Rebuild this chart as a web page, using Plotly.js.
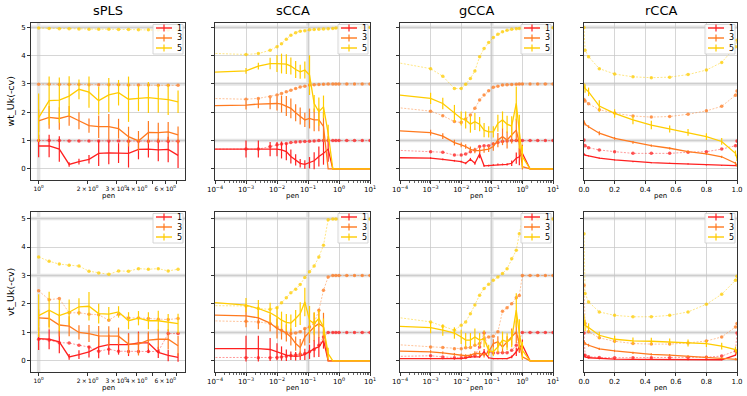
<!DOCTYPE html>
<html>
<head>
<meta charset="utf-8">
<script src="https://cdn.plot.ly/plotly-3.0.1.min.js"></script>
<style>html,body{margin:0;padding:0;background:#fff}#fig{width:747px;height:396px}</style>
</head>
<body>
<div id="fig"></div>
<script>
// x grids (pen)
var penSPLS = [1, 1.16, 1.34, 1.54, 1.77, 2.04, 2.34, 2.7, 3.1, 3.57, 4.11, 4.73, 5.44, 6.26, 7.2];
var penCCA = [1e-5, 1e-3, 0.0025, 0.006, 0.01, 0.014, 0.02, 0.028, 0.04, 0.056, 0.079, 0.112, 0.158, 0.224, 0.316, 0.447, 0.631, 0.794, 1, 1.78, 3.16, 5.62, 10];
var penRCCA = [0, 0.007, 0.03, 0.1, 0.2, 0.32, 0.44, 0.56, 0.68, 0.8, 0.9, 0.99, 1.0];

var methods = ['sPLS', 'sCCA', 'gCCA', 'rCCA'];
var rowLabels = ['wt_Uk(-cv)', 'vt_Uk(-cv)'];
var comps = ['1', '3', '5'];

// sPLS, wt
var splsWtCv1 = [0.81,0.81,0.70,0.16,0.26,0.34,0.55,0.57,0.56,0.55,0.69,0.70,0.67,0.69,0.48];
var splsWtSd1 = [0.4,0.4,0.45,0.08,0.1,0.15,0.45,0.4,0.35,0.5,0.35,0.3,0.4,0.45,0.45];
var splsWtTr1 = [1.0,1.0,1.0,0.99,0.99,0.99,0.99,0.99,0.99,0.98,0.98,0.98,0.98,0.98,0.98];
var splsWtCv3 = [1.70,1.82,1.78,1.87,1.70,1.53,1.49,1.49,1.42,1.14,0.99,1.29,1.28,1.31,1.20];
var splsWtSd3 = [0.4,0.4,0.4,0.35,0.3,0.25,0.4,0.45,0.35,0.35,0.35,0.4,0.35,0.35,0.3];
var splsWtTr3 = [2.99,2.99,2.98,2.98,2.98,2.97,2.97,2.97,2.97,2.96,2.96,2.96,2.95,2.95,2.95];
var splsWtCv5 = [1.81,2.41,2.43,2.57,2.81,2.71,2.41,2.61,2.69,2.46,2.49,2.52,2.48,2.45,2.37];
var splsWtSd5 = [0.85,0.85,0.8,0.7,0.35,0.55,0.5,0.6,0.45,0.8,0.45,0.55,0.5,0.55,0.4];
var splsWtTr5 = [4.97,4.96,4.95,4.95,4.94,4.93,4.93,4.93,4.92,4.92,4.91,4.91,4.90,4.90,4.90];

// sPLS, vt
var splsVtCv1 = [0.78,0.76,0.67,0.14,0.22,0.32,0.49,0.57,0.57,0.57,0.63,0.63,0.30,0.19,0.12];
var splsVtSd1 = [0.4,0.35,0.4,0.1,0.15,0.2,0.4,0.35,0.35,0.4,0.4,0.35,0.2,0.2,0.15];
var splsVtTr1 = [0.76,0.73,0.64,0.63,0.55,0.49,0.34,0.41,0.34,0.33,0.33,0.33,0.33,0.96,0.96];
var splsVtCv3 = [1.51,1.49,1.26,1.22,1.00,0.96,0.88,0.87,0.87,0.59,0.59,0.73,0.76,0.76,0.53];
var splsVtSd3 = [0.3,0.3,0.4,0.35,0.25,0.3,0.35,0.35,0.3,0.35,0.4,0.3,0.35,0.35,0.35];
var splsVtTr3 = [2.46,2.15,2.19,1.69,1.69,1.64,1.62,1.43,1.64,1.51,1.51,1.49,1.46,1.45,1.49];
var splsVtCv5 = [1.59,1.78,1.59,1.71,1.90,1.92,1.66,1.64,1.72,1.41,1.50,1.41,1.41,1.35,1.31];
var splsVtSd5 = [0.75,0.65,0.55,0.45,0.3,0.5,0.35,0.25,0.2,0.3,0.25,0.3,0.35,0.3,0.35];
var splsVtTr5 = [3.65,3.50,3.40,3.36,3.33,3.15,3.09,3.04,3.16,3.15,3.24,3.22,3.24,3.16,3.22];

// sCCA, wt
var sccaWtCv1 = [0.70,0.70,0.70,0.70,0.70,0.67,0.61,0.44,0.32,0.20,0.16,0.22,0.29,0.44,0.55,0.70,0,0,0,0,0,0,0];
var sccaWtSd1 = [0,0.3,0.3,0.25,0.25,0.3,0.3,0.25,0.2,0.15,0.15,0.2,0.3,0.35,0.4,0.45,0,0,0,0,0,0,0];
var sccaWtTr1 = [0.70,0.70,0.70,0.79,0.85,0.88,0.90,0.93,0.95,0.96,0.97,0.98,0.99,1,1,1,1,1,1,1,1,1,1];
var sccaWtCv3 = [2.22,2.25,2.29,2.31,2.31,2.29,2.22,2.14,1.98,1.87,1.73,1.78,1.73,1.73,1.5,0,0,0,0,0,0,0,0];
var sccaWtSd3 = [0,0.15,0.15,0.2,0.25,0.3,0.35,0.35,0.3,0.3,0.25,0.35,0.4,0.4,0.5,0,0,0,0,0,0,0,0];
var sccaWtTr3 = [2.51,2.46,2.49,2.55,2.61,2.66,2.72,2.78,2.84,2.89,2.92,2.96,2.97,2.98,2.99,3,3,3,3,3,3,3,3];
var sccaWtCv5 = [3.37,3.46,3.63,3.72,3.72,3.72,3.70,3.63,3.51,3.43,3.49,3.31,2.31,2.02,2.19,1.26,0,0,0,0,0,0,0];
var sccaWtSd5 = [0,0.1,0.12,0.2,0.3,0.35,0.35,0.3,0.3,0.25,0.3,0.7,0.3,0.5,0.4,0.3,0,0,0,0,0,0,0];
var sccaWtTr5 = [4.11,4.04,4.07,4.19,4.31,4.42,4.58,4.72,4.81,4.86,4.88,4.91,4.92,4.93,4.94,4.95,4.96,4.97,4.98,4.98,4.99,4.99,4.99];

// sCCA, vt
var sccaVtCv1 = [0.43,0.43,0.43,0.40,0.32,0.26,0.20,0.18,0.16,0.18,0.23,0.32,0.43,0.49,0.73,0,0,0,0,0,0,0,0];
var sccaVtSd1 = [0,0.45,0.45,0.4,0.3,0.25,0.2,0.15,0.15,0.15,0.2,0.25,0.3,0.35,0.3,0,0,0,0,0,0,0,0];
var sccaVtTr1 = [0.12,0.11,0.11,0.11,0.12,0.14,0.16,0.19,0.21,0.23,0.26,0.32,0.40,0.55,0.84,1,1,1,1,1,1,1,1];
var sccaVtCv3 = [1.63,1.58,1.51,1.33,1.14,1.05,0.98,0.84,0.61,0.47,0.84,1.02,1.19,1.31,1.19,0,0,0,0,0,0,0,0];
var sccaVtSd3 = [0,0.4,0.4,0.3,0.35,0.3,0.3,0.3,0.25,0.3,0.3,0.4,0.5,0.5,0.5,0,0,0,0,0,0,0,0];
var sccaVtTr3 = [1.43,1.39,1.37,1.31,1.19,1.08,0.98,0.96,0.98,1.02,1.14,1.19,1.33,1.78,2.48,2.95,3,3,3,3,3,3,3];
var sccaVtCv5 = [2.13,1.96,1.84,1.69,1.55,1.43,1.35,1.33,1.49,1.66,2.07,1.43,1.31,1.49,1.19,0.26,0,0,0,0,0,0,0];
var sccaVtSd5 = [0,0.25,0.3,0.35,0.35,0.3,0.3,0.3,0.3,0.4,0.5,0.5,0.4,0.3,0.3,0.2,0,0,0,0,0,0,0];
var sccaVtTr5 = [1.95,1.93,1.84,1.81,1.87,2.04,2.22,2.39,2.52,2.68,2.93,3.13,3.33,3.65,4.06,4.96,4.98,4.98,4.98,4.98,4.98,4.98,4.98];

// gCCA, wt
var gccaWtCv1 = [0.41,0.38,0.34,0.29,0.26,0.20,0.34,0.20,0.53,0.11,0.12,0.14,0.16,0.16,0.16,0.20,0.38,0.43,0.55,0,0,0,0];
var gccaWtSd1 = [0,0.03,0.03,0.03,0.03,0.03,0.05,0.05,0.15,0.03,0.03,0.03,0.03,0.03,0.04,0.1,0.2,0.3,0.3,0,0,0,0];
var gccaWtTr1 = [0.70,0.61,0.59,0.49,0.49,0.53,0.61,0.67,0.79,0.82,0.82,0.88,0.93,0.97,0.99,1,1,1,1,1,1,1,1];
var gccaWtCv3 = [1.41,1.28,1.16,0.93,0.85,0.79,0.69,0.65,0.65,0.67,0.70,0.79,1.02,1.14,1.02,1.20,1.37,0.90,0.08,0,0,0,0];
var gccaWtSd3 = [0,0.1,0.1,0.1,0.08,0.08,0.1,0.1,0.1,0.1,0.1,0.15,0.25,0.3,0.3,0.3,0.4,0.4,0.1,0,0,0,0];
var gccaWtTr3 = [2.27,2.04,1.88,1.67,1.64,1.76,1.90,2.14,2.43,2.61,2.76,2.88,2.92,2.96,2.97,2.98,2.99,3,3,3,3,3,3];
var gccaWtCv5 = [2.72,2.49,2.31,1.96,1.78,1.73,1.58,1.67,1.58,1.37,1.31,1.31,1.61,1.73,1.58,1.51,2.31,1.31,0.43,0,0,0,0];
var gccaWtSd5 = [0,0.2,0.2,0.3,0.25,0.3,0.3,0.3,0.25,0.25,0.2,0.2,0.3,0.3,0.3,0.35,0.6,0.6,0.4,0,0,0,0];
var gccaWtTr5 = [3.93,3.54,3.27,2.84,2.84,2.99,3.19,3.46,3.96,4.25,4.46,4.64,4.75,4.84,4.89,4.93,4.95,4.96,4.96,4.98,4.98,4.98,4.98];

// gCCA, vt
var gccaVtCv1 = [0.08,0.08,0.08,0.07,0.08,0.11,0.14,0.14,0.14,0.32,0.11,0.08,0.08,0.08,0.08,0.14,0.32,0.49,0.55,0,0,0,0];
var gccaVtSd1 = [0,0.02,0.02,0.02,0.02,0.02,0.03,0.03,0.03,0.1,0.03,0.02,0.02,0.02,0.02,0.05,0.15,0.2,0.2,0,0,0,0];
var gccaVtTr1 = [0.14,0.18,0.14,0.11,0.11,0.12,0.16,0.20,0.49,0.98,0.32,0.28,0.29,0.29,0.29,0.37,0.55,0.73,1,1,1,1,1];
var gccaVtCv3 = [0.37,0.32,0.28,0.23,0.21,0.18,0.20,0.26,0.26,0.20,0.32,0.61,0.67,0.49,0.67,0.84,1.02,0.61,0.14,0,0,0,0];
var gccaVtSd3 = [0,0.05,0.05,0.05,0.05,0.05,0.05,0.08,0.1,0.08,0.1,0.15,0.2,0.2,0.2,0.3,0.4,0.3,0.1,0,0,0,0];
var gccaVtTr3 = [0.63,0.49,0.47,0.43,0.43,0.46,0.47,0.55,0.61,0.78,0.84,0.87,1.02,1.74,1.87,2.01,2.22,2.3,3,3,3,3,3];
var gccaVtCv5 = [1.25,1.17,1.08,0.98,0.84,0.73,0.73,0.84,0.73,0.78,0.37,0.32,0.49,0.73,0.67,0.78,1.78,0.96,0.37,0,0,0,0];
var gccaVtSd5 = [0,0.2,0.2,0.2,0.25,0.25,0.25,0.3,0.25,0.3,0.2,0.15,0.2,0.3,0.3,0.3,0.6,0.5,0.3,0,0,0,0];
var gccaVtTr5 = [1.66,1.37,1.22,1.08,1.25,1.37,1.66,1.96,2.31,2.54,2.69,2.83,2.95,3.07,3.24,3.59,3.89,4.47,4.98,4.98,4.98,4.98,4.98];

// rCCA, wt
var rccaWtCv1 = [0.53,0.49,0.46,0.38,0.32,0.26,0.22,0.20,0.18,0.14,0.12,0.12,0.14];
var rccaWtSd1 = [0.02,0.02,0.02,0.02,0.02,0.02,0.02,0.02,0.02,0.02,0.02,0.02,0.02];
var rccaWtTr1 = [1.02,0.82,0.75,0.67,0.61,0.55,0.55,0.55,0.59,0.61,0.70,0.82,0.99];
var rccaWtCv3 = [1.67,1.58,1.49,1.26,1.08,0.94,0.82,0.73,0.61,0.53,0.43,0.20,0.12];
var rccaWtSd3 = [0.05,0.05,0.05,0.07,0.05,0.05,0.04,0.04,0.04,0.04,0.04,0.05,0.05];
var rccaWtTr3 = [2.45,2.40,2.30,2.09,1.97,1.87,1.83,1.85,1.93,2.05,2.21,2.60,2.75];
var rccaWtCv5 = [2.92,2.84,2.72,2.22,1.96,1.73,1.55,1.41,1.29,1.14,0.97,0.55,0.38];
var rccaWtSd5 = [0.1,0.15,0.15,0.2,0.15,0.15,0.15,0.12,0.12,0.12,0.12,0.1,0.1];
var rccaWtTr5 = [4.99,4.19,3.96,3.54,3.35,3.25,3.22,3.24,3.33,3.49,3.76,4.31,4.54];

// rCCA, vt
var rccaVtCv1 = [0.23,0.14,0.11,0.08,0.06,0.05,0.05,0.05,0.04,0.04,0.04,0.20,0.37];
var rccaVtSd1 = [0.02,0.02,0.02,0.02,0.02,0.02,0.02,0.02,0.02,0.02,0.02,0.02,0.02];
var rccaVtTr1 = [0.98,0.20,0.15,0.12,0.11,0.11,0.11,0.11,0.12,0.13,0.17,0.35,0.98];
var rccaVtCv3 = [0.67,0.61,0.55,0.42,0.35,0.28,0.23,0.20,0.16,0.14,0.11,0.06,0.05];
var rccaVtSd3 = [0.05,0.05,0.05,0.04,0.04,0.04,0.04,0.04,0.04,0.04,0.04,0.04,0.04];
var rccaVtTr3 = [2.66,1.31,1.02,0.81,0.69,0.61,0.59,0.59,0.63,0.70,0.84,1.19,1.31];
var rccaVtCv5 = [1.43,1.25,1.17,0.90,0.76,0.70,0.69,0.67,0.63,0.61,0.52,0.40,0.32];
var rccaVtSd5 = [0.2,0.2,0.15,0.12,0.12,0.12,0.12,0.12,0.12,0.12,0.12,0.1,0.1];
var rccaVtTr5 = [4.47,2.37,2.07,1.72,1.60,1.55,1.55,1.60,1.72,1.99,2.34,2.83,2.97];

var panels = [
  {x: penSPLS, cv: [splsWtCv1, splsWtCv3, splsWtCv5], sd: [splsWtSd1, splsWtSd3, splsWtSd5], tr: [splsWtTr1, splsWtTr3, splsWtTr5], vline: 1},
  {x: penCCA, cv: [sccaWtCv1, sccaWtCv3, sccaWtCv5], sd: [sccaWtSd1, sccaWtSd3, sccaWtSd5], tr: [sccaWtTr1, sccaWtTr3, sccaWtTr5], vline: 0.1},
  {x: penCCA, cv: [gccaWtCv1, gccaWtCv3, gccaWtCv5], sd: [gccaWtSd1, gccaWtSd3, gccaWtSd5], tr: [gccaWtTr1, gccaWtTr3, gccaWtTr5], vline: 0.1},
  {x: penRCCA, cv: [rccaWtCv1, rccaWtCv3, rccaWtCv5], sd: [rccaWtSd1, rccaWtSd3, rccaWtSd5], tr: [rccaWtTr1, rccaWtTr3, rccaWtTr5], vline: null},
  {x: penSPLS, cv: [splsVtCv1, splsVtCv3, splsVtCv5], sd: [splsVtSd1, splsVtSd3, splsVtSd5], tr: [splsVtTr1, splsVtTr3, splsVtTr5], vline: 1},
  {x: penCCA, cv: [sccaVtCv1, sccaVtCv3, sccaVtCv5], sd: [sccaVtSd1, sccaVtSd3, sccaVtSd5], tr: [sccaVtTr1, sccaVtTr3, sccaVtTr5], vline: 0.1},
  {x: penCCA, cv: [gccaVtCv1, gccaVtCv3, gccaVtCv5], sd: [gccaVtSd1, gccaVtSd3, gccaVtSd5], tr: [gccaVtTr1, gccaVtTr3, gccaVtTr5], vline: 0.1},
  {x: penRCCA, cv: [rccaVtCv1, rccaVtCv3, rccaVtCv5], sd: [rccaVtSd1, rccaVtSd3, rccaVtSd5], tr: [rccaVtTr1, rccaVtTr3, rccaVtTr5], vline: null}
];

var colors = ['#ff2020', '#ff7a1f', '#ffcc00'];
var trColors = ['rgba(255,32,32,0.5)', 'rgba(255,122,31,0.5)', 'rgba(255,204,0,0.55)'];

// page geometry (px)
var W = 747, H = 396;
var colL = [31, 215, 400, 584], colR = [185, 370, 553, 737];
var rowT = [23, 212], rowB = [180, 372];
var yRanges = [[-0.39, 5.15], [-0.39, 5.23]];
var FONT = 'DejaVu Sans, Arial, sans-serif';

var data = [];
var layout = {
  width: W, height: H,
  margin: {l: 0, r: 0, t: 0, b: 0},
  paper_bgcolor: '#fff', plot_bgcolor: '#fff',
  showlegend: false,
  font: {family: FONT, color: '#000'},
  shapes: [], annotations: []
};

var decTicks = [1e-4, 1e-3, 1e-2, 1e-1, 1, 10];
var decText = ['10<sup>\u22124</sup>', '10<sup>\u22123</sup>', '10<sup>\u22122</sup>', '10<sup>\u22121</sup>', '10<sup>0</sup>', '10<sup>1</sup>'];
var minorLog = [];
for (var e = -4; e < 1; e++) for (var m = 2; m < 10; m++) minorLog.push(m * Math.pow(10, e));

panels.forEach(function (pn, p) {
  var c = p % 4, r = Math.floor(p / 4);
  var s = p === 0 ? '' : String(p + 1);
  var xa = 'x' + s, ya = 'y' + s;

  pn.tr.forEach(function (tr, k) {
    data.push({
      x: pn.x, y: tr, xaxis: xa, yaxis: ya, type: 'scatter', mode: 'lines+markers',
      line: {color: trColors[k], width: 0.9, dash: '2px,1.5px'},
      marker: {color: colors[k], size: 3.5, opacity: 0.75},
      hoverinfo: 'skip'
    });
  });
  pn.cv.forEach(function (cv, k) {
    data.push({
      x: pn.x, y: cv, xaxis: xa, yaxis: ya, type: 'scatter', mode: 'lines',
      line: {color: colors[k], width: 1.3},
      error_y: {type: 'data', array: pn.sd[k], visible: true, color: colors[k], thickness: 1.2, width: 0},
      hoverinfo: 'skip'
    });
  });

  var xax = {
    domain: [colL[c] / W, colR[c] / W], anchor: ya,
    showline: true, mirror: true, linecolor: '#000', linewidth: 0.8,
    ticks: 'outside', ticklen: 3, tickwidth: 0.8, tickcolor: '#000', tickangle: 0,
    tickfont: {size: 7, color: '#000'}, zeroline: false,
    gridcolor: '#c4c4c4', gridwidth: 0.7, fixedrange: true
  };
  if (c === 0) {
    xax.type = 'log'; xax.range = [-0.047, 0.9];
    xax.tickmode = 'array'; xax.tickvals = [1, 2, 3, 4, 5, 6, 7];
    xax.ticktext = ['10<sup>0</sup>', '2\u2009\u00d7\u200910<sup>0</sup>', '3\u2009\u00d7\u200910<sup>0</sup>', '4\u2009\u00d7\u200910<sup>0</sup>', '', '6\u2009\u00d7\u200910<sup>0</sup>', ''];
    xax.tickfont = {size: 6, color: '#000'};
    xax.showgrid = false;
  } else if (c < 3) {
    xax.type = 'log'; xax.range = [-4, 1];
    xax.tickmode = 'array'; xax.tickvals = decTicks; xax.ticktext = decText;
    xax.showgrid = true;
    xax.minor = {tickmode: 'array', tickvals: minorLog, ticks: 'outside', ticklen: 1.8, tickcolor: '#000', tickwidth: 0.6, showgrid: false};
  } else {
    xax.type = 'linear'; xax.range = [0, 1];
    xax.tickmode = 'array'; xax.tickvals = [0, 0.2, 0.4, 0.6, 0.8, 1.0];
    xax.ticktext = ['0.0', '0.2', '0.4', '0.6', '0.8', '1.0'];
    xax.showgrid = true;
  }
  var yax = {
    domain: [1 - rowB[r] / H, 1 - rowT[r] / H], anchor: xa,
    range: yRanges[r], tickmode: 'array', tickvals: [0, 1, 2, 3, 4, 5],
    showticklabels: c === 0,
    showline: true, mirror: true, linecolor: '#000', linewidth: 0.8,
    ticks: 'outside', ticklen: 3, tickwidth: 0.8, tickcolor: '#000',
    tickfont: {size: 7, color: '#000'}, zeroline: false,
    showgrid: true, gridcolor: '#c4c4c4', gridwidth: 0.7, fixedrange: true
  };
  layout['xaxis' + s] = xax;
  layout['yaxis' + s] = yax;

  // reference bands at 1, 3, 5
  [1, 3, 5].forEach(function (v) {
    layout.shapes.push({type: 'line', xref: xa + ' domain', yref: ya, x0: 0, x1: 1, y0: v, y1: v,
      line: {color: '#e4e4e4', width: 3.5}, layer: 'below'});
  });
  if (pn.vline !== null) {
    layout.shapes.push({type: 'line', xref: xa, yref: ya + ' domain', x0: pn.vline, x1: pn.vline, y0: 0, y1: 1,
      line: {color: '#e4e4e4', width: 3.5}, layer: 'below'});
  }

  // legend box
  var R = colR[c], T = rowT[r];
  layout.shapes.push({type: 'rect', xref: 'paper', yref: 'paper',
    x0: (R - 32) / W, x1: (R - 2) / W, y0: 1 - (T + 31) / H, y1: 1 - (T + 1.5) / H,
    fillcolor: 'rgba(255,255,255,0.85)', line: {color: '#cccccc', width: 0.8}, layer: 'above'});
  comps.forEach(function (lab, k) {
    var yy = T + 5 + 10 * k;
    layout.shapes.push({type: 'line', xref: 'paper', yref: 'paper',
      x0: (R - 29) / W, x1: (R - 13) / W, y0: 1 - yy / H, y1: 1 - yy / H,
      line: {color: colors[k], width: 1.4}, layer: 'above'});
    layout.shapes.push({type: 'line', xref: 'paper', yref: 'paper',
      x0: (R - 21) / W, x1: (R - 21) / W, y0: 1 - (yy + 3.5) / H, y1: 1 - (yy - 3.5) / H,
      line: {color: colors[k], width: 1.2}, layer: 'above'});
    layout.annotations.push({xref: 'paper', yref: 'paper', x: (R - 10) / W, y: 1 - yy / H,
      xanchor: 'left', yanchor: 'middle', text: lab, showarrow: false, font: {size: 8, color: '#000'}});
  });

  // x label
  layout.annotations.push({xref: 'paper', yref: 'paper', x: (colL[c] + colR[c]) / 2 / W,
    y: 1 - (rowB[r] + 16) / H, xanchor: 'center', yanchor: 'middle', text: 'pen',
    showarrow: false, font: {size: 7, color: '#000'}});
});

methods.forEach(function (t, c) {
  layout.annotations.push({xref: 'paper', yref: 'paper', x: (colL[c] + colR[c]) / 2 / W, y: 1 - 10 / H,
    xanchor: 'center', yanchor: 'middle', text: t, showarrow: false, font: {size: 13, color: '#000'}});
});
rowLabels.forEach(function (t, r) {
  layout.annotations.push({xref: 'paper', yref: 'paper', x: 10 / W, y: 1 - (rowT[r] + rowB[r]) / 2 / H,
    xanchor: 'center', yanchor: 'middle', text: t, textangle: -90, showarrow: false, font: {size: 9.5, color: '#000'}});
});

Plotly.newPlot('fig', data, layout, {staticPlot: true, displayModeBar: false});
</script>
</body>
</html>
